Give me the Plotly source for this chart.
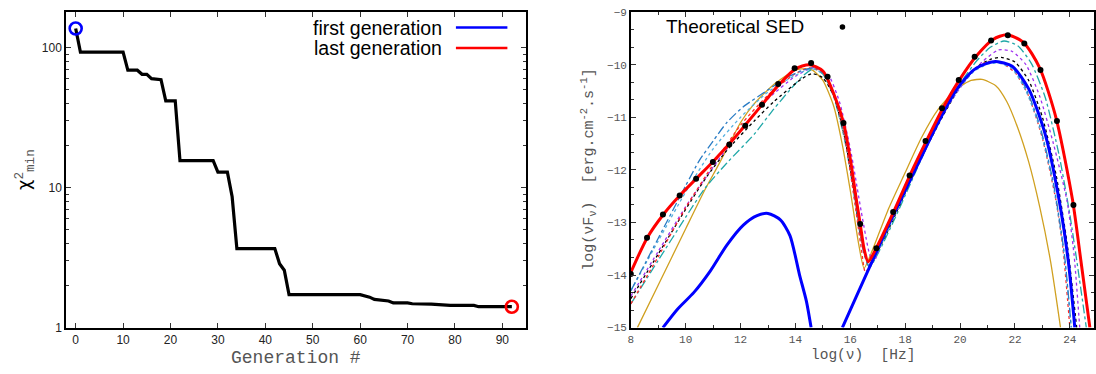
import plotly.graph_objects as go

W, H = 1096, 374

# ---------------- left panel data ----------------
gen = [0, 1, 10, 11, 13, 14, 15, 16, 18, 19, 21, 22, 29, 30, 32, 33, 34, 42, 43, 44, 45,
       60, 62, 63, 66, 67, 70, 71, 75, 79, 84, 85, 92]
chi2 = [137, 93, 93, 69, 69, 64.5, 64.5, 60, 59, 41.7, 41.7, 15.6, 15.6, 12.9, 12.9, 8.6, 3.67,
        3.67, 2.86, 2.57, 1.72, 1.72, 1.65, 1.59, 1.55, 1.50, 1.50, 1.48, 1.47, 1.44, 1.44, 1.41, 1.41]
first_gen, first_chi2 = [0], [137]
last_gen, last_chi2 = [92], [1.41]

# ---------------- right panel data ----------------
sed_x = [8.00, 8.59, 9.17, 9.78, 10.38, 10.99, 11.59, 12.17, 12.78, 13.37, 13.97, 14.57, 15.17, 15.75,
         16.36, 16.95, 17.56, 18.16, 18.74, 19.34, 19.95, 20.53, 21.13, 21.74, 22.34, 22.93, 23.53, 24.13]
sed_y = [-13.98, -13.29, -12.85, -12.49, -12.17, -11.85, -11.52, -11.16, -10.76, -10.37, -10.07, -9.97,
         -10.23, -11.11, -13.03, -13.49, -12.80, -12.11, -11.45, -10.83, -10.29, -9.85, -9.54, -9.44,
         -9.60, -10.10, -11.07, -12.67]

red_x = [8.0, 8.6, 9.2, 9.8, 10.4, 11.0, 11.6, 12.2, 12.8, 13.4, 14.0, 14.5, 15.0, 15.45, 15.75, 16.0,
         16.2, 16.36, 16.5, 16.65, 16.95, 17.6, 18.2, 18.8, 19.4, 20.0, 20.6, 21.2, 21.7, 22.3, 22.9,
         23.5, 24.1, 24.4, 24.73]
red_y = [-13.95, -13.29, -12.84, -12.48, -12.16, -11.84, -11.5, -11.13, -10.75, -10.38, -10.08, -10.0,
         -10.12, -10.63, -11.1, -11.8, -12.5, -13.03, -13.5, -13.75, -13.48, -12.77, -12.07, -11.42,
         -10.8, -10.27, -9.83, -9.52, -9.43, -9.57, -10.06, -11.02, -12.58, -13.72, -15.0]

blue_x = [9.17, 9.7, 10.3, 10.9, 11.5, 12.1, 12.6, 13.0, 13.45, 13.8, 14.15, 14.4, 14.57, None,
          15.71, 16.2, 16.7, 17.3, 17.9, 18.5, 19.2, 19.9, 20.5, 21.0, 21.3, 21.9, 22.5, 23.1, 23.6,
          23.95, 24.18]
blue_y = [-15.0, -14.65, -14.33, -13.92, -13.43, -13.05, -12.87, -12.83, -12.95, -13.25, -14.0, -14.5,
          -15.0, None, -15.0, -14.43, -13.85, -13.15, -12.5, -11.85, -11.1, -10.45, -10.1, -9.97, -9.94,
          -10.03, -10.46, -11.32, -12.55, -13.77, -15.0]

gold_x = [8.24, 9.0, 10.0, 10.7, 11.2, 11.6, 12.0, 12.5, 13.2, 13.9, 14.2, 14.6, 15.0, 15.4, 15.7,
          16.0, 16.3, 16.5, 16.75, 17.4, 18.0, 18.6, 19.2, 19.9, 20.4, 20.8, 21.3, 21.7, 22.1, 22.5,
          22.9, 23.3, 23.66]
gold_y = [-15.0, -14.19, -13.12, -12.38, -11.9, -11.5, -11.1, -10.74, -10.38, -10.13, -10.08, -10.1,
          -10.3, -10.8, -11.5, -12.4, -13.4, -13.87, -13.6, -12.73, -12.05, -11.38, -10.85, -10.45,
          -10.3, -10.28, -10.4, -10.7, -11.2, -11.85, -12.7, -13.75, -15.0]

cyan_x = [8.0, 9.0, 10.0, 10.7, 11.5, 12.5, 13.2, 13.9, 14.3, 14.65, 15.0, 15.4, 15.8, 16.1, 16.4,
          16.7, 17.0, 17.6, 18.2, 18.8, 19.4, 20.0, 20.6, 21.1, 21.6, 22.1, 22.6, 23.1, 23.6, 24.0,
          24.3, 24.6]
cyan_y = [-14.55, -13.72, -12.9, -12.35, -11.87, -11.32, -10.85, -10.42, -10.2, -10.08, -10.18, -10.62,
          -11.45, -12.35, -13.35, -13.85, -13.6, -12.95, -12.25, -11.55, -10.92, -10.36, -9.93, -9.67,
          -9.55, -9.64, -9.98, -10.62, -11.7, -12.85, -13.9, -15.0]

purple_x = [8.0, 9.0, 10.0, 11.0, 12.0, 13.0, 14.0, 14.7, 15.2, 15.6, 16.0, 16.4, 16.7, 16.85, 17.2,
            17.8, 18.4, 19.0, 19.6, 20.2, 20.8, 21.4, 21.9, 22.4, 22.9, 23.4, 23.9, 24.15, 24.36]
purple_y = [-14.4, -13.55, -12.7, -11.95, -11.25, -10.65, -10.22, -10.05, -10.2, -10.7, -11.6, -12.8, -13.6,
            -13.75, -13.3, -12.65, -11.95, -11.3, -10.75, -10.3, -9.95, -9.72, -9.75, -10.0, -10.6,
            -11.5, -12.6, -13.6, -15.0]

black_x = [8.0, 9.0, 10.0, 10.7, 11.5, 12.5, 13.2, 14.2, 14.6, 15.0, 15.4, 15.8, 16.1, 16.4, 16.7,
           17.0, 17.6, 18.2, 18.8, 19.4, 20.0, 20.6, 21.1, 21.5, 22.0, 22.5, 23.0, 23.5, 23.9, 24.25]
black_y = [-14.45, -13.6, -12.75, -12.18, -11.63, -11.07, -10.71, -10.28, -10.17, -10.25, -10.6, -11.4,
           -12.3, -13.3, -13.8, -13.55, -12.9, -12.2, -11.55, -10.95, -10.42, -10.05, -9.9, -9.86,
           -9.95, -10.3, -11.0, -12.1, -13.4, -15.0]

reddot_x = [8.0, 9.0, 10.0, 11.0, 12.0, 13.0, 14.0, 14.5, 15.0, 15.4, 15.8, 16.1, 16.4, 16.55, 16.9,
            17.5, 18.1, 18.7, 19.3, 19.9, 20.5, 21.0, 21.5, 22.0, 22.5, 23.0, 23.5, 23.75, 24.0]
reddot_y = [-14.55, -13.65, -12.72, -11.9, -11.15, -10.58, -10.17, -10.06, -10.15, -10.55, -11.4, -12.4,
            -13.5, -13.95, -13.6, -12.95, -12.25, -11.6, -11.0, -10.45, -10.1, -9.94, -9.97, -10.15,
            -10.6, -11.4, -12.6, -13.5, -15.0]

bdd_x = [8.0, 9.0, 10.0, 10.5, 11.0, 11.5, 12.1, 13.0, 13.7, 14.3, 14.7, 15.1, 15.5, 15.9, 16.2, 16.5,
         16.7, 17.0, 17.6, 18.2, 18.8, 19.4, 20.0, 20.5, 21.0, 21.4, 21.9, 22.4, 22.9, 23.4, 23.8, 24.05]
bdd_y = [-14.3, -13.3, -12.3, -11.82, -11.45, -11.1, -10.8, -10.48, -10.24, -10.1, -10.06, -10.2,
         -10.7, -11.6, -12.6, -13.6, -13.85, -13.55, -12.85, -12.15, -11.5, -10.9, -10.4, -10.1, -9.96,
         -9.94, -10.05, -10.45, -11.15, -12.25, -13.6, -15.0]

lbd_x = [8.0, 9.0, 10.0, 11.0, 12.0, 13.0, 14.0, 14.6, 15.1, 15.5, 15.9, 16.2, 16.5, 16.7, 17.0, 17.6,
         18.2, 18.8, 19.4, 20.0, 20.5, 21.0, 21.4, 21.9, 22.4, 22.9, 23.4, 23.8, 24.05]
lbd_y = [-14.3, -13.35, -12.42, -11.6, -11.0, -10.52, -10.2, -10.08, -10.2, -10.7, -11.55, -12.55,
         -13.55, -13.85, -13.55, -12.87, -12.17, -11.52, -10.92, -10.42, -10.13, -9.99, -9.97, -10.08,
         -10.5, -11.2, -12.3, -13.65, -15.0]

fig = go.Figure()

# left panel
fig.add_trace(go.Scatter(x=gen, y=chi2, mode="lines", line=dict(color="black", width=3.2),
                         xaxis="x", yaxis="y", showlegend=False, cliponaxis=False))
fig.add_trace(go.Scatter(x=first_gen, y=first_chi2, mode="markers",
                         marker=dict(symbol="circle-open", size=12, color="#0000ff", line=dict(width=2.6)),
                         xaxis="x", yaxis="y", showlegend=False, cliponaxis=False))
fig.add_trace(go.Scatter(x=last_gen, y=last_chi2, mode="markers",
                         marker=dict(symbol="circle-open", size=12, color="#ff0000", line=dict(width=2.6)),
                         xaxis="x", yaxis="y", showlegend=False, cliponaxis=False))

# right panel thin curves
thin = [
    (gold_x, gold_y, "#d0a020", "solid"),
    (cyan_x, cyan_y, "#20a8a8", "dashdot"),
    (black_x, black_y, "#000000", "dot"),
    (purple_x, purple_y, "#a030f0", "dot"),
    (reddot_x, reddot_y, "#ff2a2a", "dot"),
    (lbd_x, lbd_y, "#55b0e0", "dot"),
    (bdd_x, bdd_y, "#2a7cc4", "dashdot"),
]
for xs, ys, col, dash in thin:
    fig.add_trace(go.Scatter(x=xs, y=ys, mode="lines", line=dict(color=col, width=1.3, dash=dash,
                                                                 shape="spline", smoothing=0.6),
                             xaxis="x2", yaxis="y2", showlegend=False))

fig.add_trace(go.Scatter(x=blue_x, y=blue_y, mode="lines",
                         line=dict(color="#0000ff", width=3, shape="spline", smoothing=0.7),
                         xaxis="x2", yaxis="y2", showlegend=False))
fig.add_trace(go.Scatter(x=red_x, y=red_y, mode="lines",
                         line=dict(color="#ff0000", width=3, shape="spline", smoothing=0.7),
                         xaxis="x2", yaxis="y2", showlegend=False))
fig.add_trace(go.Scatter(x=sed_x, y=sed_y, mode="markers", marker=dict(color="black", size=6),
                         xaxis="x2", yaxis="y2", showlegend=False))

ydom = [(H - 333.3) / H, (H - 7.3) / H]
axcommon = dict(showline=True, linecolor="black", linewidth=1.5, mirror="allticks", ticks="inside",
                showgrid=False, zeroline=False, tickcolor="#333", tickwidth=1)

fig.update_layout(
    width=W, height=H, margin=dict(l=0, r=0, t=0, b=0),
    paper_bgcolor="white", plot_bgcolor="white",
    xaxis=dict(domain=[63.3 / W, 525 / W], range=[-2.04, 94.9], dtick=10, tick0=0, ticklen=5,
               tickfont=dict(family="Liberation Sans", size=12, color="#222"), anchor="y", **axcommon),
    yaxis=dict(domain=ydom, type="log", range=[0, 2.254], dtick=1, ticklen=5,
               minor=dict(ticks="inside", ticklen=3, dtick="D1", tickcolor="#333"),
               tickfont=dict(family="Liberation Sans", size=12, color="#222"), anchor="x", **axcommon),
    xaxis2=dict(domain=[630.7 / W, 1.0], range=[8, 24.88], dtick=2, tick0=8, ticklen=5,
                minor=dict(ticks="inside", ticklen=3, dtick=1, tick0=8, tickcolor="#333"),
                tickfont=dict(family="Liberation Mono", size=11, color="#555"), anchor="y2", **axcommon),
    yaxis2=dict(domain=ydom, range=[-15, -9], dtick=1, tick0=-15, ticklen=5,
                minor=dict(ticks="inside", ticklen=3, dtick=1 / 3, tick0=-15, tickcolor="#333"),
                tickfont=dict(family="Liberation Mono", size=11, color="#555"), anchor="x2", **axcommon),
)

def px(x):
    return x / W

def py(y):
    return (H - y) / H

annos = [
    dict(text="first generation", x=px(442.7), y=py(23.3), xanchor="right", yanchor="middle",
         font=dict(family="Liberation Sans", size=19.5, color="black")),
    dict(text="last generation", x=px(442.7), y=py(44.3), xanchor="right", yanchor="middle",
         font=dict(family="Liberation Sans", size=19.5, color="black")),
    dict(text="Generation #", x=px(294), y=py(364.5), xanchor="center", yanchor="middle",
         font=dict(family="Liberation Mono", size=18, color="#555")),
    dict(text="χ<sup><span style='font-family:Liberation Mono;color:#555'>2</span></sup>"
              "<sub><span style='font-family:Liberation Mono;color:#555'>min</span></sub>",
         x=px(22.5), y=py(170), xanchor="center", yanchor="middle", textangle=-90,
         font=dict(family="DejaVu Sans", size=18, color="black")),
    dict(text="Theoretical SED", x=px(806.7), y=py(22.5), xanchor="right", yanchor="middle",
         font=dict(family="Liberation Sans", size=19, color="black")),
    dict(text="log(νF<sub>ν</sub>)  [erg.cm<sup>-2</sup>.s<sup>-1</sup>]", x=px(588), y=py(170),
         xanchor="center", yanchor="middle", textangle=-90,
         font=dict(family="Liberation Mono", size=15, color="#555")),
    dict(text="log(ν)  [Hz]", x=px(864), y=py(362), xanchor="center", yanchor="middle",
         font=dict(family="Liberation Mono", size=14.5, color="#555")),
]
for a in annos:
    a.update(xref="paper", yref="paper", showarrow=False)
fig.update_layout(annotations=annos)

shapes = [
    dict(type="line", x0=px(455), x1=px(506.7), y0=py(23.3), y1=py(23.3), line=dict(color="#0000ff", width=2.5)),
    dict(type="line", x0=px(455), x1=px(506.7), y0=py(44.3), y1=py(44.3), line=dict(color="#ff0000", width=2.5)),
    dict(type="circle", x0=px(843.3 - 2.8), x1=px(843.3 + 2.8), y0=py(22.7 + 2.8), y1=py(22.7 - 2.8),
         fillcolor="black", line=dict(width=0)),
]
for s in shapes:
    s.update(xref="paper", yref="paper")
fig.update_layout(shapes=shapes)

fig.write_html("out.html", config={"displayModeBar": False},
               post_script="document.body.style.margin='0';document.body.style.overflow='hidden';")
